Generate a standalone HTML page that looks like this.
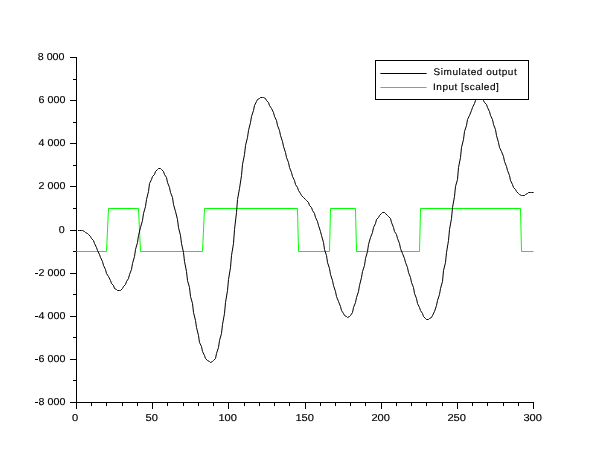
<!DOCTYPE html>
<html><head><meta charset="utf-8"><style>
html,body{margin:0;padding:0;background:#fff;width:610px;height:460px;overflow:hidden}
svg{display:block;will-change:transform}
text{stroke:#000;stroke-width:0.15px;text-rendering:geometricPrecision}
</style></head><body>
<svg width="610" height="460" viewBox="0 0 610 460" font-family='"Liberation Sans", sans-serif' fill="#000"><g stroke="#000" stroke-width="1" shape-rendering="crispEdges" fill="none">
<line x1="76.5" y1="57" x2="76.5" y2="409"/>
<line x1="70" y1="402.5" x2="534" y2="402.5"/>
<line x1="70" y1="57.5" x2="77" y2="57.5"/>
<line x1="70" y1="100.5" x2="77" y2="100.5"/>
<line x1="70" y1="143.5" x2="77" y2="143.5"/>
<line x1="70" y1="186.5" x2="77" y2="186.5"/>
<line x1="70" y1="230.5" x2="77" y2="230.5"/>
<line x1="70" y1="273.5" x2="77" y2="273.5"/>
<line x1="70" y1="316.5" x2="77" y2="316.5"/>
<line x1="70" y1="359.5" x2="77" y2="359.5"/>
<line x1="70" y1="402.5" x2="77" y2="402.5"/>
<line x1="73" y1="79.5" x2="77" y2="79.5"/>
<line x1="73" y1="122.5" x2="77" y2="122.5"/>
<line x1="73" y1="165.5" x2="77" y2="165.5"/>
<line x1="73" y1="208.5" x2="77" y2="208.5"/>
<line x1="73" y1="251.5" x2="77" y2="251.5"/>
<line x1="73" y1="294.5" x2="77" y2="294.5"/>
<line x1="73" y1="337.5" x2="77" y2="337.5"/>
<line x1="73" y1="380.5" x2="77" y2="380.5"/>
<line x1="76.5" y1="402" x2="76.5" y2="409"/>
<line x1="91.5" y1="402" x2="91.5" y2="406"/>
<line x1="106.5" y1="402" x2="106.5" y2="406"/>
<line x1="122.5" y1="402" x2="122.5" y2="406"/>
<line x1="137.5" y1="402" x2="137.5" y2="406"/>
<line x1="152.5" y1="402" x2="152.5" y2="409"/>
<line x1="167.5" y1="402" x2="167.5" y2="406"/>
<line x1="183.5" y1="402" x2="183.5" y2="406"/>
<line x1="198.5" y1="402" x2="198.5" y2="406"/>
<line x1="213.5" y1="402" x2="213.5" y2="406"/>
<line x1="228.5" y1="402" x2="228.5" y2="409"/>
<line x1="244.5" y1="402" x2="244.5" y2="406"/>
<line x1="259.5" y1="402" x2="259.5" y2="406"/>
<line x1="274.5" y1="402" x2="274.5" y2="406"/>
<line x1="289.5" y1="402" x2="289.5" y2="406"/>
<line x1="305.5" y1="402" x2="305.5" y2="409"/>
<line x1="320.5" y1="402" x2="320.5" y2="406"/>
<line x1="335.5" y1="402" x2="335.5" y2="406"/>
<line x1="350.5" y1="402" x2="350.5" y2="406"/>
<line x1="365.5" y1="402" x2="365.5" y2="406"/>
<line x1="381.5" y1="402" x2="381.5" y2="409"/>
<line x1="396.5" y1="402" x2="396.5" y2="406"/>
<line x1="411.5" y1="402" x2="411.5" y2="406"/>
<line x1="426.5" y1="402" x2="426.5" y2="406"/>
<line x1="442.5" y1="402" x2="442.5" y2="406"/>
<line x1="457.5" y1="402" x2="457.5" y2="409"/>
<line x1="472.5" y1="402" x2="472.5" y2="406"/>
<line x1="487.5" y1="402" x2="487.5" y2="406"/>
<line x1="503.5" y1="402" x2="503.5" y2="406"/>
<line x1="518.5" y1="402" x2="518.5" y2="406"/>
<line x1="533.5" y1="402" x2="533.5" y2="409"/>
</g>
<path d="M76.50,251.50 L106.50,251.50 L108.50,208.50 L138.50,208.50 L140.50,251.50 L202.50,251.50 L204.50,208.50 L297.50,208.50 L298.50,251.50 L329.50,251.50 L330.50,208.50 L355.50,208.50 L356.50,251.50 L419.50,251.50 L420.50,208.50 L520.50,208.50 L521.50,251.50 L533.50,251.50" fill="none" stroke="#00ff00" stroke-width="1"/>
<path d="M78.0,230.5 L79.5,230.5 L81.5,230.5 L82.5,230.5 L84.5,231.5 L85.5,232.5 L87.5,233.5 L88.5,234.5 L90.5,236.5 L91.5,238.5 L93.5,240.5 L94.5,243.5 L96.5,247.5 L97.5,250.5 L99.5,254.5 L100.5,257.5 L102.5,261.5 L103.5,265.5 L105.5,269.5 L106.5,273.5 L108.5,276.5 L110.5,280.5 L111.5,283.5 L113.5,285.5 L114.5,288.5 L116.5,289.5 L117.5,290.5 L119.5,290.5 L120.5,290.5 L122.5,288.5 L123.5,286.5 L125.5,284.5 L126.5,281.5 L128.5,278.5 L129.5,274.5 L131.5,269.5 L132.5,263.5 L134.5,256.5 L135.5,249.5 L137.5,242.5 L138.5,235.5 L140.5,227.5 L142.5,220.5 L143.5,213.5 L145.5,206.5 L146.5,199.5 L148.5,191.5 L149.5,183.5 L151.5,179.5 L152.5,176.5 L154.5,174.5 L155.5,171.5 L157.5,169.5 L158.5,168.5 L160.5,168.5 L161.5,169.5 L163.5,171.5 L164.5,174.5 L166.5,177.5 L167.5,182.5 L169.5,187.5 L170.5,192.5 L172.5,197.5 L173.5,204.5 L175.5,211.5 L177.5,219.5 L178.5,227.5 L180.5,235.5 L181.5,243.5 L183.5,252.5 L184.5,261.5 L186.5,271.5 L187.5,280.5 L189.5,287.5 L190.5,296.5 L192.5,303.5 L193.5,312.5 L195.5,320.5 L196.5,327.5 L198.5,335.5 L199.5,342.5 L201.5,346.5 L202.5,351.5 L204.5,355.5 L205.5,358.5 L207.5,360.5 L209.5,361.5 L210.5,362.5 L212.5,361.5 L213.5,360.5 L215.5,358.5 L216.5,353.5 L218.5,347.5 L219.5,340.5 L221.5,333.5 L222.5,324.5 L224.5,313.5 L225.5,302.5 L227.5,290.5 L228.5,279.5 L230.5,267.5 L231.5,255.5 L233.5,243.5 L234.5,229.5 L236.5,212.5 L237.5,199.5 L239.5,188.5 L241.5,175.5 L242.5,164.5 L244.5,154.5 L245.5,145.5 L247.5,137.5 L248.5,130.5 L250.5,122.5 L251.5,116.5 L253.5,110.5 L254.5,105.5 L256.5,101.5 L257.5,99.5 L259.5,98.5 L260.5,97.5 L262.5,97.5 L263.5,97.5 L265.5,98.5 L266.5,100.5 L268.5,102.5 L269.5,105.5 L271.5,108.5 L273.5,112.5 L274.5,116.5 L276.5,120.5 L277.5,125.5 L279.5,130.5 L280.5,135.5 L282.5,141.5 L283.5,146.5 L285.5,152.5 L286.5,157.5 L288.5,162.5 L289.5,167.5 L291.5,172.5 L292.5,176.5 L294.5,180.5 L295.5,184.5 L297.5,187.5 L298.5,190.5 L300.5,193.5 L301.5,195.5 L303.5,197.5 L305.5,199.5 L306.5,200.5 L308.5,202.5 L309.5,205.5 L311.5,207.5 L312.5,210.5 L314.5,213.5 L315.5,217.5 L317.5,221.5 L318.5,225.5 L320.5,231.5 L321.5,235.5 L323.5,242.5 L324.5,249.5 L326.5,255.5 L327.5,262.5 L329.5,268.5 L330.5,274.5 L332.5,280.5 L333.5,285.5 L335.5,291.5 L336.5,296.5 L338.5,301.5 L340.5,306.5 L341.5,310.5 L343.5,313.5 L344.5,315.5 L346.5,316.5 L347.5,317.5 L349.5,316.5 L350.5,315.5 L352.5,312.5 L353.5,307.5 L355.5,302.5 L356.5,297.5 L358.5,291.5 L359.5,285.5 L361.5,277.5 L362.5,271.5 L364.5,265.5 L365.5,258.5 L367.5,251.5 L368.5,244.5 L370.5,237.5 L372.5,232.5 L373.5,227.5 L375.5,223.5 L376.5,219.5 L378.5,217.5 L379.5,215.5 L381.5,213.5 L382.5,212.5 L384.5,212.5 L385.5,213.5 L387.5,215.5 L388.5,216.5 L390.5,218.5 L391.5,222.5 L393.5,227.5 L394.5,231.5 L396.5,234.5 L397.5,238.5 L399.5,243.5 L400.5,248.5 L402.5,253.5 L404.5,258.5 L405.5,262.5 L407.5,267.5 L408.5,272.5 L410.5,277.5 L411.5,282.5 L413.5,287.5 L414.5,293.5 L416.5,298.5 L417.5,303.5 L419.5,307.5 L420.5,310.5 L422.5,313.5 L423.5,316.5 L425.5,318.5 L426.5,319.5 L428.5,319.5 L429.5,318.5 L431.5,317.5 L432.5,315.5 L434.5,311.5 L436.5,305.5 L437.5,300.5 L439.5,294.5 L440.5,288.5 L442.5,281.5 L443.5,270.5 L445.5,262.5 L446.5,252.5 L448.5,240.5 L449.5,229.5 L451.5,218.5 L452.5,207.5 L454.5,196.5 L455.5,186.5 L457.5,179.5 L458.5,167.5 L460.5,157.5 L461.5,147.5 L463.5,139.5 L464.5,131.5 L466.5,125.5 L467.5,119.5 L469.5,115.5 L471.5,110.5 L472.5,107.5 L474.5,103.5 L475.5,100.5 L477.5,98.5 L478.5,97.5 L480.5,97.5 L481.5,98.5 L483.5,100.5 L484.5,102.5 L486.5,104.5 L487.5,107.5 L489.5,111.5 L490.5,115.5 L492.5,119.5 L493.5,124.5 L495.5,129.5 L496.5,135.5 L498.5,142.5 L499.5,147.5 L501.5,151.5 L503.5,156.5 L504.5,161.5 L506.5,166.5 L507.5,170.5 L509.5,175.5 L510.5,180.5 L512.5,184.5 L513.5,187.5 L515.5,189.5 L516.5,191.5 L518.5,193.5 L519.5,194.5 L521.5,195.5 L522.5,195.5 L524.5,195.5 L525.5,194.5 L527.5,193.5 L528.5,192.5 L530.5,192.5 L531.5,192.5 L533.5,192.5" fill="none" stroke="#000" stroke-width="1"/>
<rect x="375.5" y="60.5" width="153" height="39" fill="#fff" stroke="#000" stroke-width="1"/>
<line x1="380.4" y1="73.5" x2="426.6" y2="73.5" stroke="#000" stroke-width="1"/>
<line x1="380.4" y1="87.5" x2="426.6" y2="87.5" stroke="#00ff00" stroke-width="1"/>
<text transform="translate(433.6,75) scale(1,0.95)" font-size="10" letter-spacing="0.54">Simulated output</text>
<text transform="translate(433.1,90) scale(1,0.95)" font-size="10" letter-spacing="0.47">Input [scaled]</text>
<text transform="translate(64.5,60.2) scale(1.070,1.000)" font-size="10" text-anchor="end">8 000</text>
<text transform="translate(65.4,103.2) scale(1.070,1.000)" font-size="10" text-anchor="end">6 000</text>
<text transform="translate(65.4,146.2) scale(1.070,1.000)" font-size="10" text-anchor="end">4 000</text>
<text transform="translate(65.4,189.2) scale(1.070,1.000)" font-size="10" text-anchor="end">2 000</text>
<text transform="translate(64.6,233.2) scale(1.070,1.000)" font-size="10" text-anchor="end">0</text>
<rect x="35" y="273" width="3" height="1" fill="#000"/>
<text transform="translate(65.4,276.2) scale(1.070,1.000)" font-size="10" text-anchor="end">2 000</text>
<rect x="35" y="316" width="3" height="1" fill="#000"/>
<text transform="translate(65.4,319.2) scale(1.070,1.000)" font-size="10" text-anchor="end">4 000</text>
<rect x="35" y="359" width="3" height="1" fill="#000"/>
<text transform="translate(65.4,362.2) scale(1.070,1.000)" font-size="10" text-anchor="end">6 000</text>
<rect x="35" y="402" width="3" height="1" fill="#000"/>
<text transform="translate(65.4,405.2) scale(1.070,1.000)" font-size="10" text-anchor="end">8 000</text>
<text transform="translate(75.2,421.3) scale(1.110,1.000)" font-size="10" text-anchor="middle">0</text>
<text transform="translate(151.7,421.3) scale(1.110,1.000)" font-size="10" text-anchor="middle">50</text>
<text transform="translate(227.7,421.3) scale(1.110,1.000)" font-size="10" text-anchor="middle">100</text>
<text transform="translate(304.7,421.3) scale(1.110,1.000)" font-size="10" text-anchor="middle">150</text>
<text transform="translate(380.7,421.3) scale(1.110,1.000)" font-size="10" text-anchor="middle">200</text>
<text transform="translate(456.7,421.3) scale(1.110,1.000)" font-size="10" text-anchor="middle">250</text>
<text transform="translate(532.7,421.3) scale(1.110,1.000)" font-size="10" text-anchor="middle">300</text></svg>
</body></html>
